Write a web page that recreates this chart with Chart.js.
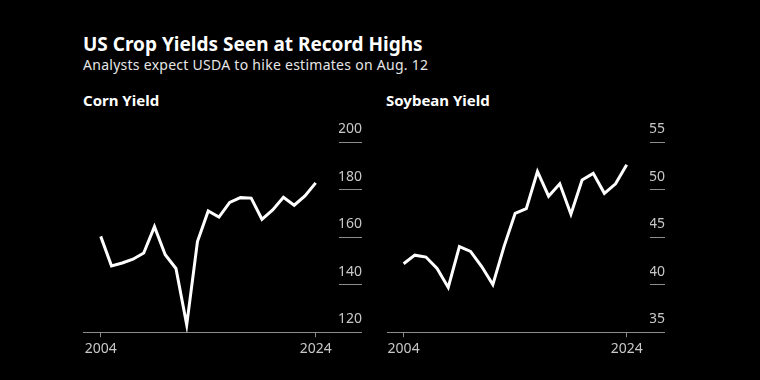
<!DOCTYPE html>
<html>
<head>
<meta charset="utf-8">
<script src="https://cdn.jsdelivr.net/npm/chart.js@4"></script>
<style>
    html, body { margin: 0; padding: 0; background: #000; }
    #wrap { position: relative; width: 760px; height: 380px; background: #000; overflow: hidden; font-family: "Noto Sans", sans-serif; }
    .title { position: absolute; left: 83px; top: 31px; color: #fff; font-size: 19px; font-weight: 700; white-space: nowrap; }
    .subtitle { position: absolute; left: 83px; top: 55px; color: #e6e6e6; font-size: 14px; letter-spacing: 0.27px; white-space: nowrap; }
    .panel-title { position: absolute; top: 90px; color: #fff; font-size: 15px; font-weight: 700; white-space: nowrap; }
    canvas { position: absolute; top: 0; }
</style>
</head>
<body>
<div id="wrap">
    <div class="title">US Crop Yields Seen at Record Highs</div>
    <div class="subtitle">Analysts expect USDA to hike estimates on Aug. 12</div>
    <div class="panel-title" style="left:83px">Corn Yield</div>
    <div class="panel-title" style="left:386px">Soybean Yield</div>
    <canvas id="corn" width="380" height="380" style="left:0"></canvas>
    <canvas id="soy" width="380" height="380" style="left:380px"></canvas>
</div>
<script>
// years shown on both panels
const years = [2004, 2005, 2006, 2007, 2008, 2009, 2010, 2011, 2012, 2013, 2014,
    2015, 2016, 2017, 2018, 2019, 2020, 2021, 2022, 2023, 2024];

// bushels per acre
const cornYield = [160.3, 147.9, 149.1, 150.7, 153.3, 164.4, 152.6, 146.8, 123.1, 158.1, 171.0,
    168.4, 174.6, 176.6, 176.4, 167.5, 171.4, 176.7, 173.4, 177.3, 182.8];
const soyYield = [42.2, 43.1, 42.9, 41.7, 39.7, 44.0, 43.5, 41.9, 40.0, 44.0, 47.5,
    48.0, 51.9, 49.3, 50.6, 47.4, 51.0, 51.7, 49.6, 50.6, 52.6];

const xTicks = [2004, 2024];
const cornTicks = [120, 140, 160, 180, 200];
const soyTicks = [35, 40, 45, 50, 55];

const axisGray = '#8c8c8c';
const labelGray = '#c8c8c8';

function makeChart(id, values, yTicks, opts) {
    const ctx = document.getElementById(id).getContext('2d');
    return new Chart(ctx, {
        type: 'line',
        data: {
            datasets: [{
                data: years.map((y, i) => ({ x: y, y: values[i] })),
                borderColor: '#ffffff',
                borderWidth: 3,
                pointRadius: 0,
                tension: 0,
                fill: false
            }]
        },
        options: {
            responsive: false,
            animation: false,
            layout: {
                padding: opts.padding
            },
            plugins: {
                legend: { display: false },
                tooltip: { enabled: false }
            },
            scales: {
                x: {
                    type: 'linear',
                    min: opts.xMin,
                    max: opts.xMax,
                    afterBuildTicks: axis => {
                        axis.ticks = xTicks.map(v => ({ value: v }));
                    },
                    border: { display: true, color: axisGray, width: 1 },
                    grid: {
                        drawOnChartArea: false,
                        drawTicks: true,
                        tickLength: 5,
                        color: axisGray
                    },
                    ticks: {
                        color: labelGray,
                        font: { family: 'Noto Sans', size: 14 },
                        padding: 3,
                        maxRotation: 0,
                        callback: v => String(v)
                    }
                },
                y: {
                    position: 'right',
                    min: yTicks[0],
                    max: yTicks[yTicks.length - 1],
                    afterBuildTicks: axis => {
                        axis.ticks = yTicks.map(v => ({ value: v }));
                    },
                    // labels sit on top of the short grid stubs
                    afterFit: axis => {
                        axis.width = opts.tickLen;
                    },
                    border: { display: false },
                    grid: {
                        drawOnChartArea: false,
                        drawTicks: true,
                        tickLength: opts.tickLen,
                        color: axisGray
                    },
                    ticks: {
                        color: labelGray,
                        font: { family: 'Noto Sans', size: 14 },
                        crossAlign: 'far',
                        padding: -opts.tickLen,
                        labelOffset: -13
                    }
                }
            }
        }
    });
}

makeChart('corn', cornYield, cornTicks, {
    padding: { left: 83, top: 142, right: 18, bottom: 20 },
    xMin: 2002.35, xMax: 2026.17, tickLen: 23
});

makeChart('soy', soyYield, soyTicks, {
    padding: { left: 7, top: 142, right: 95, bottom: 20 },
    xMin: 2002.51, xMax: 2026.09, tickLen: 15
});
</script>
</body>
</html>
